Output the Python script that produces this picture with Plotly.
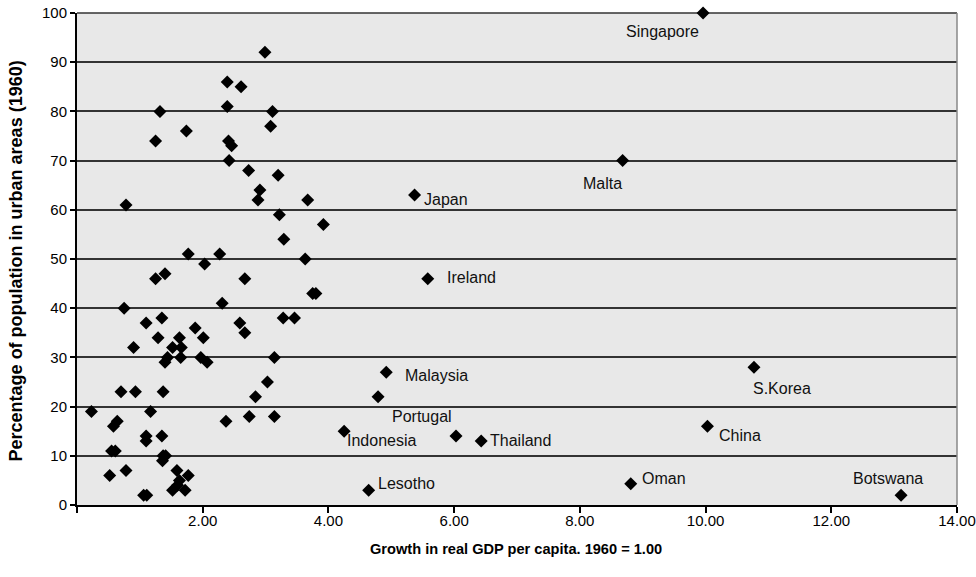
import plotly.graph_objects as go

# Unlabelled countries
x_vals = [2.99, 2.39, 2.61, 1.32, 2.39, 3.11, 3.08, 1.74, 1.25, 2.41, 2.46, 2.42, 2.73, 3.20,
          2.91, 2.88, 3.67, 0.78, 3.22, 3.92, 3.29, 1.77, 2.27, 3.63, 2.03, 1.25, 1.40, 2.67,
          3.75, 3.80, 2.31, 0.75, 1.10, 1.35, 2.59, 3.28, 3.46, 1.88, 1.29, 1.63, 2.01, 2.67,
          0.90, 1.52, 1.66, 1.44, 1.40, 1.65, 1.97, 2.07, 3.14, 3.03, 0.70, 0.93, 1.37, 2.84,
          0.23, 1.17, 2.74, 3.14, 2.37, 0.64, 0.58, 1.10, 1.10, 1.35, 0.55, 0.61, 1.37, 1.41,
          1.36, 1.59, 0.78, 0.52, 1.77, 1.63, 1.60, 1.52, 1.72, 1.06, 1.11, 4.79]
y_vals = [92, 86, 85, 80, 81, 80, 77, 76, 74, 74, 73, 70, 68, 67,
          64, 62, 62, 61, 59, 57, 54, 51, 51, 50, 49, 46, 47, 46,
          43, 43, 41, 40, 37, 38, 37, 38, 38, 36, 34, 34, 34, 35,
          32, 32, 32, 30, 29, 30, 30, 29, 30, 25, 23, 23, 23, 22,
          19, 19, 18, 18, 17, 17, 16, 14, 13, 14, 11, 11, 10, 10,
          9, 7, 7, 6, 6, 5, 4, 3, 3, 2, 2, 22]

# Labelled countries
countries = ["Singapore", "Malta", "Japan", "Ireland", "Malaysia", "Indonesia", "Portugal",
             "Thailand", "Lesotho", "Oman", "S.Korea", "China", "Botswana"]
country_x = [9.96, 8.68, 5.37, 5.58, 4.92, 4.25, 6.03, 6.43, 4.64, 8.81, 10.77, 10.03, 13.11]
country_y = [100, 70, 63, 46, 27, 15, 14, 13, 3, 4.3, 28, 16, 2]
# label anchor positions (data units)
label_x = [9.32, 8.36, 5.49, 5.86, 5.19, 4.27, 4.98, 6.54, 4.76, 8.95, 10.73, 10.18, 12.32]
label_y = [96.3, 65.4, 62.0, 46.3, 26.4, 13.2, 17.9, 13.2, 4.3, 5.3, 23.6, 14.2, 5.3]
label_anchor = ["center", "center", "left", "left", "left", "left", "left", "left", "left",
                "left", "left", "left", "left"]

x_ticks = [0, 2, 4, 6, 8, 10, 12, 14]
x_tick_text = ["", "2.00", "4.00", "6.00", "8.00", "10.00", "12.00", "14.00"]
y_ticks = [0, 10, 20, 30, 40, 50, 60, 70, 80, 90, 100]

fig = go.Figure()

# plot-area frame: top edge (grid at 100) and grey right edge
fig.add_shape(type="line", xref="x domain", yref="y domain", x0=0, x1=1, y0=1, y1=1,
              line=dict(color="#333", width=1.5), layer="below")
fig.add_shape(type="line", xref="x domain", yref="y domain", x0=1, x1=1, y0=0, y1=1,
              line=dict(color="#888", width=1.5))

fig.add_trace(go.Scatter(
    x=x_vals + country_x, y=y_vals + country_y, mode="markers",
    marker=dict(symbol="diamond", size=10, color="black"),
    showlegend=False, cliponaxis=False))

for name, lx, ly, anc in zip(countries, label_x, label_y, label_anchor):
    fig.add_annotation(x=lx, y=ly, text=name, showarrow=False, xanchor=anc,
                       yanchor="middle",
                       font=dict(family="Liberation Sans, Arial", size=16, color="#111"))

# axis titles
fig.add_annotation(xref="paper", yref="paper", x=-0.0688, y=0.496, textangle=-90,
                   xanchor="center", yanchor="middle",
                   text="<b>Percentage of population in urban areas (1960)</b>",
                   showarrow=False, font=dict(family="Liberation Sans, Arial", size=18))
fig.add_annotation(xref="paper", yref="paper", x=0.4994, y=-0.0894,
                   xanchor="center", yanchor="middle",
                   text="<b>Growth in real GDP per capita. 1960 = 1.00</b>",
                   showarrow=False,
                   font=dict(family="Liberation Sans, Arial", size=14.6))

fig.update_layout(
    width=976, height=577,
    margin=dict(l=77, r=19, t=13, b=72),
    paper_bgcolor="white", plot_bgcolor="#e8e8e8",
    font=dict(family="Liberation Sans, Arial", size=14, color="black"),
    xaxis=dict(range=[0, 14], tickvals=x_ticks, ticktext=x_tick_text, showgrid=False,
               zeroline=False, showline=True, linecolor="black", linewidth=2,
               ticks="outside", ticklen=6, tickcolor="black", tickwidth=1.5,
               automargin=False, ticklabelstandoff=-5, ticklabeloverflow="allow",
               tickfont=dict(size=15, family="Liberation Sans, Arial")),
    yaxis=dict(range=[0, 100], tickvals=y_ticks, showgrid=True, gridcolor="#333", gridwidth=1.5,
               zeroline=False, showline=True, linecolor="black", linewidth=2,
               ticks="outside", ticklen=5, tickcolor="black", tickwidth=1.5,
               automargin=False, ticklabeloverflow="allow", tickfont=dict(size=15)),
)

fig.write_html("out.html", config={"displayModeBar": False},
               post_script="document.body.style.margin='0';")
